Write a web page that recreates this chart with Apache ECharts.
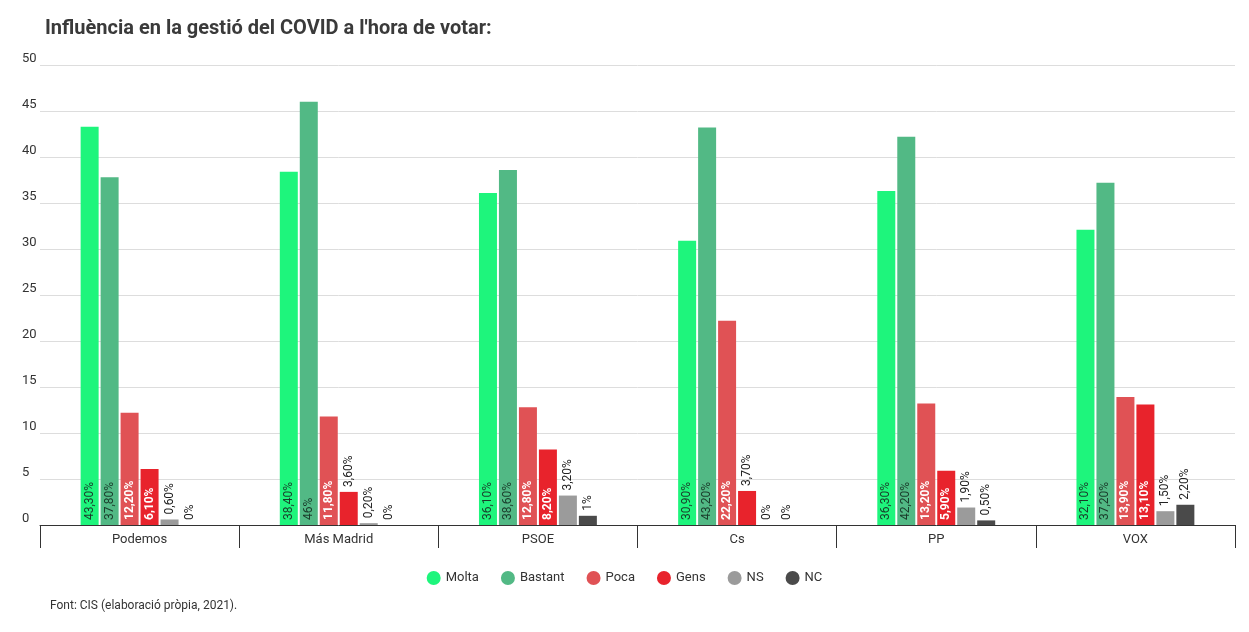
<!DOCTYPE html>
<html>
<head>
<meta charset="utf-8">
<script src="https://cdn.jsdelivr.net/npm/echarts@6/dist/echarts.min.js"></script>
<style>
body { margin: 0; background: #fff; }
#chart { width: 1249px; height: 632px; }
</style>
</head>
<body>
<div id="chart"></div>
<script>
var categories = ['Podemos', 'Más Madrid', 'PSOE', 'Cs', 'PP', 'VOX'];
var seriesNames = ['Molta', 'Bastant', 'Poca', 'Gens', 'NS', 'NC'];
var molta = [43.3, 38.4, 36.1, 30.9, 36.3, 32.1];
var bastant = [37.8, 46.0, 38.6, 43.2, 42.2, 37.2];
var poca = [12.2, 11.8, 12.8, 22.2, 13.2, 13.9];
var gens = [6.1, 3.6, 8.2, 3.7, 5.9, 13.1];
var ns = [0.6, 0.2, 3.2, 0, 1.9, 1.5];
var nc = [0, 0, 1, 0, 0.5, 2.2];
var colors = ['#1ef57c', '#52b985', '#e05255', '#e8232c', '#9b9b9b', '#4a4a4a'];

function fmt(v) {
    if (Math.round(v) === v) return v + '%';
    return v.toFixed(2).replace('.', ',') + '%';
}

function makeData(values, insideColor, bold) {
    return values.map(function (v) {
        if (v >= 5) {
            return { value: v, label: { position: 'insideBottom', color: insideColor, fontWeight: bold ? 'bold' : 'normal' } };
        }
        return { value: v, label: { position: 'top', color: '#222', fontWeight: 'normal' } };
    });
}

var allData = [
    makeData(molta, '#1a3a2a', false),
    makeData(bastant, '#1a3a2a', false),
    makeData(poca, '#fff', true),
    makeData(gens, '#fff', true),
    makeData(ns, '#fff', true),
    makeData(nc, '#fff', true)
];

var myChart = echarts.init(document.getElementById('chart'));
var option = {
    textStyle: { fontFamily: 'Roboto' },
    title: {
        text: "Influència en la gestió del COVID a l'hora de votar:",
        left: 40, top: 14,
        textStyle: { fontSize: 20, fontWeight: 'bold', color: '#3a3a3a', fontFamily: 'Roboto' }
    },
    legend: {
        data: seriesNames,
        bottom: 42,
        icon: 'circle',
        itemWidth: 14, itemHeight: 14, itemGap: 22,
        textStyle: { fontSize: 13, color: '#333' }
    },
    graphic: [{
        type: 'text', left: 50, top: 600,
        style: { text: 'Font: CIS (elaboració pròpia, 2021).', fontSize: 12, fill: '#333', fontFamily: 'Roboto' }
    }],
    grid: { left: 40, right: 14, top: 65, bottom: 107 },
    xAxis: {
        type: 'category',
        data: categories,
        axisLine: { lineStyle: { color: '#333' } },
        axisTick: { show: true, length: 23, lineStyle: { color: '#333' } },
        axisLabel: { color: '#333', fontSize: 13, margin: 8 }
    },
    yAxis: {
        type: 'value',
        min: 0, max: 50, interval: 5,
        axisLabel: { color: '#333', fontSize: 13, margin: 18, align: 'left', verticalAlign: 'bottom' },
        splitLine: { lineStyle: { color: '#ddd' } },
        axisLine: { show: false },
        axisTick: { show: false }
    },
    series: seriesNames.map(function (name, i) {
        return {
            name: name,
            type: 'bar',
            data: allData[i],
            barWidth: 18,
            barGap: '11%',
            itemStyle: { color: colors[i] },
            label: {
                show: true,
                rotate: 90,
                fontSize: 12,
                align: 'left',
                verticalAlign: 'middle',
                distance: 5,
                formatter: function (p) { return fmt(p.value); }
            }
        };
    })
};
myChart.setOption(option);
</script>
</body>
</html>
